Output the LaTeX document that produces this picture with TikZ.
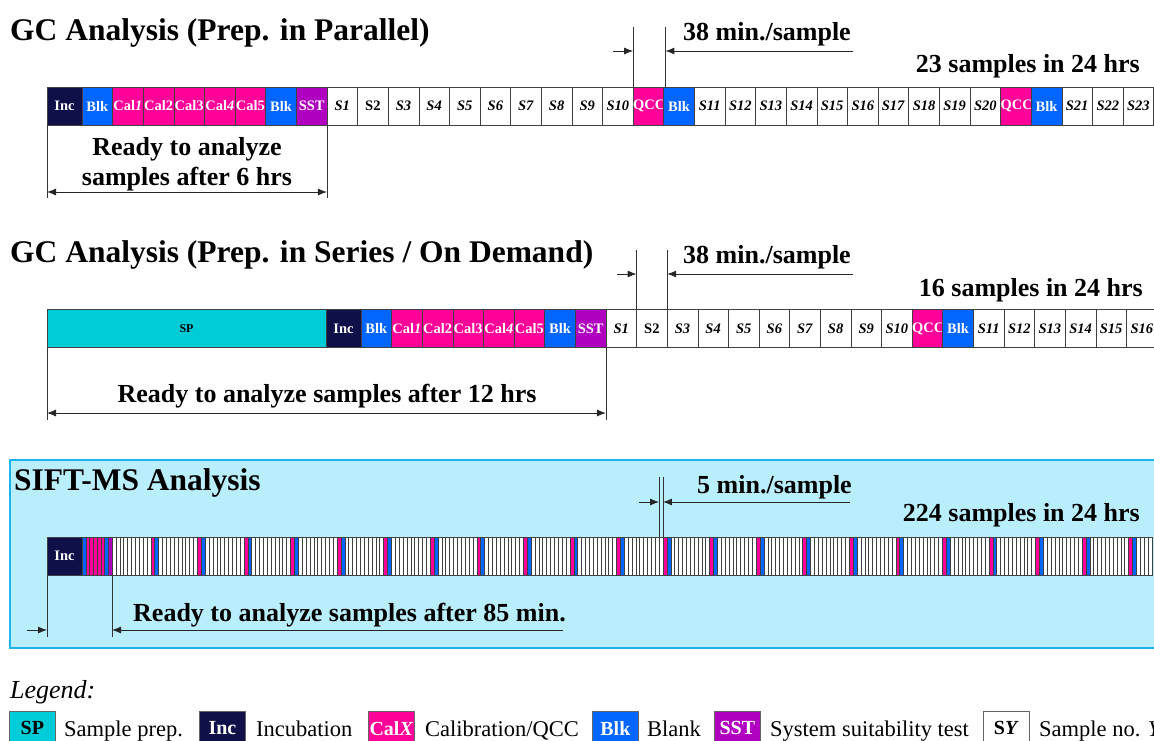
\documentclass[tikz,border=0pt]{standalone}
\usepackage{fontspec}
\setmainfont{Liberation Serif}
\usetikzlibrary{arrows.meta}

\definecolor{incC}{HTML}{101048}
\definecolor{blkC}{HTML}{0066FF}
\definecolor{calC}{HTML}{FF0099}
\definecolor{sstC}{HTML}{B000C0}
\definecolor{spC}{HTML}{00CCD8}
\definecolor{siftC}{HTML}{B9EEFC}
\definecolor{siftB}{HTML}{1CB4EC}

\newcommand\cellfont{\fontsize{14.5}{16}\selectfont\bfseries}
\newcommand\headfont{\fontsize{31.5}{36}\selectfont\bfseries}
\newcommand\notefont{\fontsize{26}{30}\selectfont\bfseries}
\newcommand\keyfont{\fontsize{22.5}{26}\selectfont}
\newcommand\Smp[1]{\ifnum#1=2 S2\else\textit{S#1}\fi}

\tikzset{
  cell/.style={draw=black!75, line width=0.6pt, minimum width=30.62pt, minimum height=38pt,
    inner sep=0pt, outer sep=0pt, anchor=west, font=\cellfont, text=white},
  inc/.style={cell, fill=incC, minimum width=35pt},
  blk/.style={cell, fill=blkC},
  cal/.style={cell, fill=calC},
  sst/.style={cell, fill=sstC},
  smp/.style={cell, fill=white, text=black},
  slim/.style={draw=black!75, line width=0.45pt, minimum width=3.88pt, minimum height=38pt,
    inner sep=0pt, outer sep=0pt, anchor=west},
  guide/.style={line width=0.8pt, black!80},
  dimarrow/.style={line width=0.9pt, black!85, -{Latex[length=9pt,width=7pt]}},
  dimboth/.style={line width=0.9pt, black!85, {Latex[length=9pt,width=7pt]}-{Latex[length=9pt,width=7pt]}},
  label/.style={inner sep=0pt, font=\notefont},
  keybox/.style={draw=black!60, line width=0.8pt, minimum width=46pt, minimum height=34pt,
    inner sep=0pt, anchor=north west, font=\fontsize{20}{22}\selectfont\bfseries, text=white},
  keytext/.style={anchor=base west, font=\keyfont, inner sep=0pt},
}

\begin{document}
\begin{tikzpicture}[x=1pt,y=-1pt]
\clip (0,0) rectangle (1154,740);

%% GC, prep. in parallel
\node[anchor=base west, font=\headfont, inner sep=0pt] (t1) at (10,40) {GC Analysis (Prep. in Parallel)};
\node[inc] (p0) at (47,106) {Inc};
\foreach \lab/\sty [count=\i] in {Blk/blk, {Cal\textit{1}}/cal, Cal2/cal, Cal3/cal, {Cal\textit{4}}/cal, Cal5/cal, Blk/blk, SST/sst}
  \node[\sty] (p\i) at ({82+30.62*(\i-1)},106) {\lab};
\foreach \k in {1,...,23} {
  \pgfmathtruncatemacro\pos{8+\k+2*floor((\k-1)/10)}
  \node[smp] (p-s\k) at ({82+30.62*(\pos-1)},106) {\Smp{\k}};
}
\foreach \q/\pos in {1/19, 2/31} {
  \node[cal] (p-q\q) at ({82+30.62*(\pos-1)},106) {QCC};
  \node[blk] (p-b\q) at ({82+30.62*\pos},106) {Blk};
}

\coordinate (m1y) at (0,27);
\coordinate (m1l) at (613,51);
\coordinate (m1r) at (853,51);
\draw[guide] (p-q1.north west) -- (p-q1.north west |- m1y);
\draw[guide] (p-q1.north east) -- (p-q1.north east |- m1y);
\draw[dimarrow] (m1l) -- (p-q1.west |- m1l);
\draw[dimarrow] (m1r) -- (p-q1.east |- m1r);
\node[label, anchor=base west] (m1t) at (683,40) {38 min./sample};
\node[label, anchor=base east] (n1) at (1140,72) {23 samples in 24 hrs};

\node[label, align=center, anchor=base] (r1) at (187,185) {Ready to analyze\\samples after 6 hrs};
\coordinate (r1y) at (0,192);
\coordinate (r1k) at (0,198);
\draw[guide] (p0.south west) -- (p0.south west |- r1k);
\draw[guide] (p8.south east) -- (p8.south east |- r1k);
\draw[dimboth] (p0.south west |- r1y) -- (p8.south east |- r1y);

%% GC, prep. in series
\node[anchor=base west, font=\headfont, inner sep=0pt] (t2) at (10,262) {GC Analysis (Prep. in Series / On Demand)};
\node[cell, fill=spC, text=black, minimum width=279pt, font=\fontsize{12}{13}\selectfont\bfseries] (q-sp) at (47,328.5) {SP};
\node[inc] (q0) at (326,328.5) {Inc};
\foreach \lab/\sty [count=\i] in {Blk/blk, {Cal\textit{1}}/cal, Cal2/cal, Cal3/cal, {Cal\textit{4}}/cal, Cal5/cal, Blk/blk, SST/sst}
  \node[\sty] (q\i) at ({361+30.62*(\i-1)},328.5) {\lab};
\foreach \k in {1,...,16} {
  \pgfmathtruncatemacro\pos{8+\k+2*floor((\k-1)/10)}
  \node[smp] (q-s\k) at ({361+30.62*(\pos-1)},328.5) {\Smp{\k}};
}
\node[cal] (q-q1) at ({361+30.62*18},328.5) {QCC};
\node[blk] (q-b1) at ({361+30.62*19},328.5) {Blk};

\coordinate (m2y) at (0,250);
\coordinate (m2l) at (617,274);
\coordinate (m2r) at (853,274);
\draw[guide] (q-s2.north west) -- (q-s2.north west |- m2y);
\draw[guide] (q-s2.north east) -- (q-s2.north east |- m2y);
\draw[dimarrow] (m2l) -- (q-s2.west |- m2l);
\draw[dimarrow] (m2r) -- (q-s2.east |- m2r);
\node[label, anchor=base west] (m2t) at (683,263) {38 min./sample};
\node[label, anchor=base east] (n2) at (1143,296) {16 samples in 24 hrs};

\node[label, anchor=base] (r2) at (327,402) {Ready to analyze samples after 12 hrs};
\coordinate (r2y) at (0,413);
\coordinate (r2k) at (0,420);
\draw[guide] (q-sp.south west) -- (q-sp.south west |- r2k);
\draw[guide] (q8.south east) -- (q8.south east |- r2k);
\draw[dimboth] (q-sp.south west |- r2y) -- (q8.south east |- r2y);

%% SIFT-MS
\draw[fill=siftC, draw=siftB, line width=1.6pt] (10,460) rectangle (1170,648);
\node[anchor=base west, font=\headfont, inner sep=0pt] (t3) at (14,490) {SIFT-MS Analysis};
\node[inc] (s0) at (47,556) {Inc};
\foreach \c [count=\i] in {blkC,calC,calC,calC,calC,calC,blkC,sstC}
  \node[slim, fill=\c, minimum width=3.75pt] (s\i) at ({82+3.75*(\i-1)},556) {};
\foreach \i in {0,...,267} {
  \pgfmathtruncatemacro\r{mod(\i,12)}
  \ifnum\r=10 \def\fc{calC}\else\ifnum\r=11 \def\fc{blkC}\else\def\fc{white}\fi\fi
  \node[slim, fill=\fc] (x-\i) at ({112+3.88*\i},556) {};
}

\coordinate (m3y) at (0,477);
\coordinate (m3l) at (639,502);
\coordinate (m3r) at (850,502);
\draw[guide] (x-141.north west) -- (x-141.north west |- m3y);
\draw[guide] (x-141.north east) -- (x-141.north east |- m3y);
\draw[dimarrow] (m3l) -- (x-141.west |- m3l);
\draw[dimarrow] (m3r) -- (x-141.east |- m3r);
\node[label, anchor=base west] (m3t) at (697,493) {5 min./sample};
\node[label, anchor=base east] (n3) at (1140,521) {224 samples in 24 hrs};

\node[label, anchor=base west] (r3) at (133,621) {Ready to analyze samples after 85 min.};
\coordinate (r3k) at (0,637);
\coordinate (r3l) at (27,630);
\coordinate (r3r) at (563,630);
\draw[guide] (s0.south west) -- (s0.south west |- r3k);
\draw[guide] (s8.south east) -- (s8.south east |- r3k);
\draw[dimarrow] (r3l) -- (s0.west |- r3l);
\draw[dimarrow] (r3r) -- (s8.east |- r3r);

%% legend
\node[anchor=base west, font=\fontsize{26}{30}\selectfont\itshape, inner sep=0pt] (lg) at (10,698) {Legend:};
\node[keybox, fill=spC, text=black] (k-sp) at (9,711) {SP};
\node[keytext] (k-spt) at (64,736) {Sample prep.};
\node[keybox, fill=incC] (k-inc) at (199,711) {Inc};
\node[keytext] (k-inct) at (256,736) {Incubation};
\node[keybox, fill=calC] (k-cal) at (368,711) {Cal\textit{X}};
\node[keytext] (k-calt) at (425,736) {Calibration/QCC};
\node[keybox, fill=blkC] (k-blk) at (592,711) {Blk};
\node[keytext] (k-blkt) at (647,736) {Blank};
\node[keybox, fill=sstC] (k-sst) at (714,711) {SST};
\node[keytext] (k-sstt) at (770,736) {System suitability test};
\node[keybox, fill=white, text=black] (k-smp) at (983,711) {S\textit{Y}};
\node[keytext] (k-smpt) at (1039,736) {Sample no. \textit{Y}};

\end{tikzpicture}
\end{document}
